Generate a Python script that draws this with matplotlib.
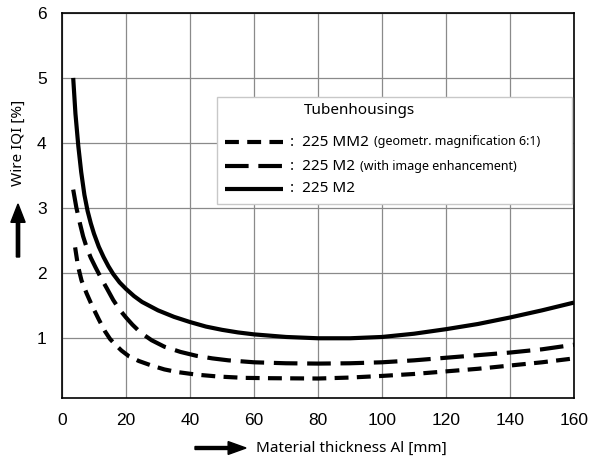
import numpy as np
import matplotlib
matplotlib.use("Agg")
import matplotlib.pyplot as plt
from matplotlib.patches import Rectangle, FancyArrow
from matplotlib.lines import Line2D

# thickness [mm] / wire IQI [%]
x_m2 = [3.5, 4.2, 5.1, 6, 7, 8, 9, 10, 11.5, 13, 14.5, 16, 18, 20, 22.5, 25, 30,
        35, 40, 45, 50, 55, 60, 70, 80, 90, 100, 110, 120, 130, 140, 150, 160]
y_m2 = [5.0, 4.45, 3.95, 3.55, 3.2, 2.95, 2.76, 2.6, 2.4, 2.24, 2.1, 1.98, 1.85,
        1.75, 1.64, 1.55, 1.42, 1.32, 1.24, 1.17, 1.12, 1.08, 1.05, 1.01, 0.99,
        0.99, 1.01, 1.06, 1.13, 1.21, 1.31, 1.42, 1.54]

x_m2_enh = [3.5, 4.5, 5.6, 6.6, 7.7, 9, 10.5, 12.4, 14, 16, 18, 20, 22, 24.5, 28,
            32, 37, 42, 47, 52, 60, 70, 80, 90, 100, 110, 120, 130, 140, 150, 160]
y_m2_enh = [3.28, 3.0, 2.76, 2.56, 2.39, 2.23, 2.08, 1.9, 1.76, 1.58, 1.43, 1.31,
            1.2, 1.08, 0.96, 0.86, 0.78, 0.72, 0.68, 0.65, 0.62, 0.605, 0.60,
            0.605, 0.62, 0.65, 0.69, 0.73, 0.77, 0.82, 0.89]

x_mm2 = [4.1, 5, 6.1, 7.7, 9.5, 11.5, 13.4, 15, 16.5, 18.6, 21, 24, 28, 32, 36,
         42, 49, 57, 65, 80, 90, 100, 110, 120, 130, 140, 150, 160]
y_mm2 = [2.39, 2.1, 1.88, 1.68, 1.48, 1.28, 1.1, 0.98, 0.9, 0.80, 0.71, 0.64,
         0.57, 0.51, 0.47, 0.43, 0.40, 0.38, 0.375, 0.37, 0.385, 0.41, 0.44,
         0.48, 0.52, 0.57, 0.62, 0.68]

legend_title = "Tubenhousings"
legend_main = ["225 MM2", "225 M2", "225 M2"]
legend_note = ["(geometr. magnification 6:1)", "(with image enhancement)", ""]

W, H = 595, 458
plt.rcParams['lines.scale_dashes'] = False
TXT = "Noto Sans"

fig = plt.figure(figsize=(W / 100, H / 100), dpi=100)
ax = fig.add_axes([62 / W, 1 - 398 / H, (574 - 62) / W, (398 - 13) / H])


def fx(px):
    return px / W


def fy(py):
    return 1 - py / H


short_dash = (0, (10, 6))
long_dash = (0, (17, 7))
styles = [dict(ls=short_dash), dict(ls=long_dash), dict(ls='-')]

ax.plot(x_m2, y_m2, color='black', lw=3, solid_capstyle='butt',
        solid_joinstyle='round', zorder=3)
ax.plot(x_m2_enh, y_m2_enh, color='black', lw=3, ls=long_dash,
        dash_capstyle='butt', dash_joinstyle='round', zorder=3)
ax.plot(x_mm2, y_mm2, color='black', lw=3, ls=short_dash,
        dash_capstyle='butt', dash_joinstyle='round', zorder=3)

ax.set_xlim(0, 160)
ax.set_ylim(0.07, 6)
ax.set_xticks(np.arange(0, 161, 20))
ax.set_yticks([1, 2, 3, 4, 5, 6])
ax.tick_params(length=0, labelsize=12.5, pad=11)
for lab in ax.get_xticklabels() + ax.get_yticklabels():
    lab.set_family("Liberation Sans")
ax.grid(True, color='#8a8a8a', lw=0.9)
ax.set_axisbelow(True)
for s in ax.spines.values():
    s.set_color('black')
    s.set_linewidth(1.2)

# axis captions with arrows
fig.text(fx(18), fy(143), "Wire IQI [%]", rotation=90, ha='center', va='center',
         fontsize=11, family=TXT)
fig.add_artist(FancyArrow(fx(18), fy(257), 0, fy(204) - fy(257), width=0.0055,
                          head_width=0.024, head_length=0.04,
                          length_includes_head=True, color='black',
                          transform=fig.transFigure))
fig.text(fx(256), fy(448), "Material thickness Al [mm]", ha='left', va='center',
         fontsize=11, family=TXT)
fig.add_artist(FancyArrow(fx(195), fy(448), fx(246) - fx(195), 0, width=0.0065,
                          head_width=0.028, head_length=0.03,
                          length_includes_head=True, color='black',
                          transform=fig.transFigure))

# legend box drawn by hand (mixed font sizes)
fig.add_artist(Rectangle((fx(217), fy(204)), fx(572) - fx(217), fy(97) - fy(204),
                         facecolor='white', edgecolor='#c8c8c8', lw=1,
                         transform=fig.transFigure, zorder=5))
fig.text(fx(360), fy(111), legend_title, ha='center', va='center', fontsize=11,
         family=TXT, zorder=6)
renderer = fig.canvas.get_renderer()
rows_y = [142, 166, 189]
for i, py in enumerate(rows_y):
    fig.add_artist(Line2D([fx(225), fx(283)], [fy(py), fy(py)], color='black',
                          lw=3, dash_capstyle='butt', solid_capstyle='butt',
                          transform=fig.transFigure, zorder=6, **styles[i]))
    t = fig.text(fx(290), fy(py), ":  " + legend_main[i], ha='left', va='center',
                 fontsize=11, family=TXT, zorder=6)
    if legend_note[i]:
        bb = t.get_window_extent(renderer)
        fig.text(fx(bb.x1 + 5), fy(py), legend_note[i], ha='left', va='center',
                 fontsize=9, family=TXT, zorder=6)

fig.savefig("out.png", dpi=100)
